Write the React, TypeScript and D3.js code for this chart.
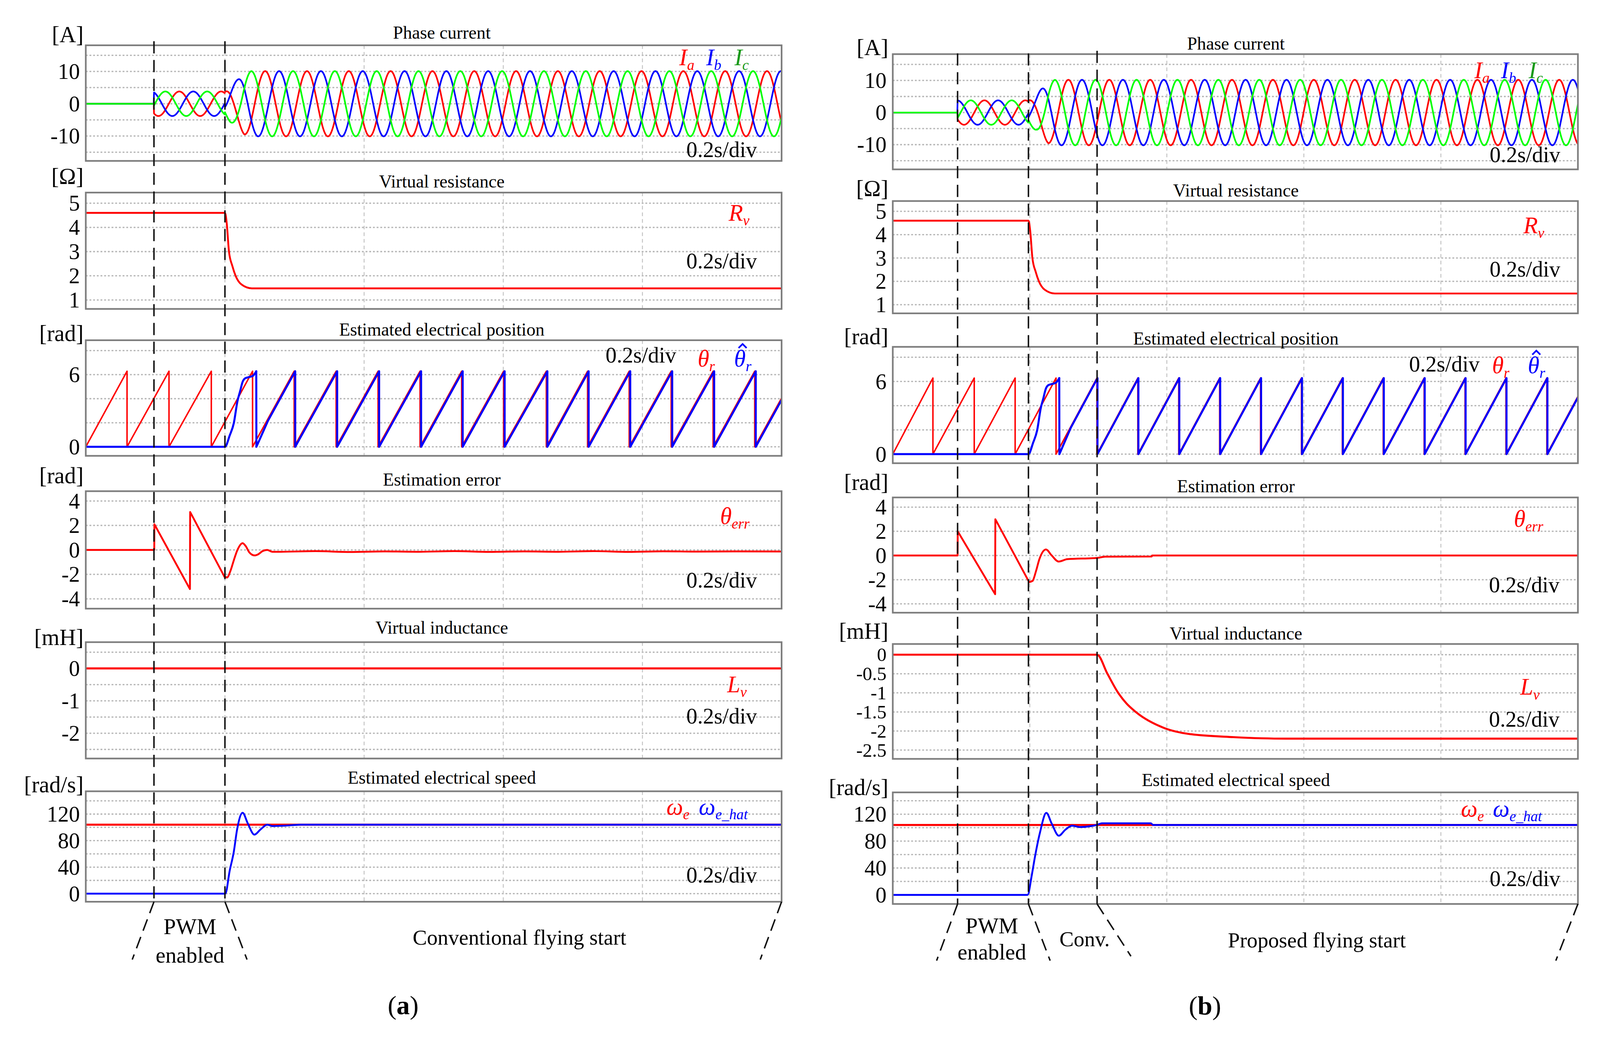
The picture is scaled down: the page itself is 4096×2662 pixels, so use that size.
import React from "react";
import * as d3 from "d3";

const FONT = "'Liberation Serif', 'Times New Roman', Times, serif";
const RED = "#ff0000";
const BLUE = "#0000ff";
const GREEN = "#00ff00";
const GREEN_TXT = "#1a9a1a";
const TWO_PI = 2 * Math.PI;
const S = 4096 / 4346;

// ================= data =================
const timeGrid = [0.2, 0.4, 0.6, 0.8]; // 0.2 s/div, 5 divisions
const eventsA = [0.098, 0.2];
const eventsB = [0.0946, 0.198, 0.2982];

// axis ranges / grid / ticks
const currentDomA = [-17.7, 18.1];
const currentDomB = [-17.7, 18.2];
const currentGrid = [-15, -10, -5, 0, 5, 10, 15];
const currentTicks = [-10, 0, 10];
const rvDom = [0.63, 5.44];
const rvGrid = [1, 2, 3, 4, 5];
const rvTicks = [1, 2, 3, 4, 5];
const posDom = [-0.75, 8.86];
const posGrid = [0, 2, 4, 6, 8];
const posTicks = [0, 6];
const errDomA = [-4.8, 4.8];
const errDomB = [-4.73, 4.8];
const errGrid = [-4, -2, 0, 2, 4];
const errTicks = [-4, -2, 0, 2, 4];
const lvDomA = [-2.78, 0.81];
const lvGridA = [-2.5, -2, -1.5, -1, -0.5, 0, 0.5];
const lvTicksA = [-2, -1, 0];
const lvDomB = [-2.73, 0.28];
const lvGridB = [-2.5, -2, -1.5, -1, -0.5, 0];
const lvTicksB = [-2.5, -2, -1.5, -1, -0.5, 0];
const spdDomA = [-12.2, 154.4];
const spdDomB = [-13.5, 152.5];
const spdGrid = [0, 20, 40, 60, 80, 100, 120, 140];
const spdTicks = [0, 40, 80, 120];

// phase currents (three-phase sinusoids)
const curA = { on: 0.098, run: 0.2, period: 0.0601, peakPwm: 0.1344, peakRun: 0.4381 };
const curEnvTA = [0.098, 0.2, 0.208, 0.218, 0.228, 0.238, 1.0];
const curEnvVA = [3.8, 3.8, 5.7, 7.4, 9.5, 10.1, 10.1];
const curB = { on: 0.0946, run: 0.198, period: 0.0597, peakPwm: 0.1338, peakRun: 0.2563 };
const curEnvTB = [0.0946, 0.198, 0.2095, 0.2182, 0.2273, 0.237, 1.0];
const curEnvVB = [3.8, 3.8, 5.6, 7.6, 9.6, 10.2, 10.2];
const phaseShift = [0, 1, -1]; // Ia, Ib, Ic (units of 2π/3)

// virtual resistance
const rvTA = [0, 0.2001, 0.2026, 0.2058, 0.2107, 0.2153, 0.2238, 0.2386, 1.0];
const rvVA = [4.6, 4.6, 4.16, 3.0, 2.4, 2.0, 1.64, 1.48, 1.48];
const rvTB = [0, 0.1981, 0.2006, 0.2038, 0.2087, 0.2133, 0.2218, 0.2366, 1.0];
const rvVB = [4.6, 4.6, 4.16, 3.0, 2.4, 2.0, 1.64, 1.48, 1.48];

// electrical position: reset instants of θr
const thetaResetsA = [0.0593, 0.1196, 0.1804, 0.2397, 0.2995, 0.3598, 0.4201, 0.4804, 0.5402, 0.6005, 0.6619, 0.7212, 0.781, 0.8413, 0.9016, 0.9614];
const thetaResetsB = [0.0586, 0.1189, 0.1786, 0.2383, 0.298, 0.3577, 0.4174, 0.4771, 0.5368, 0.5965, 0.6562, 0.7159, 0.7756, 0.8353, 0.895, 0.9547];
// estimated position transient
const thHatTA = [0, 0.2, 0.2069, 0.2127, 0.218, 0.2217, 0.2254, 0.2291, 0.2349, 0.2402, 0.245];
const thHatVA = [0, 0, 0.95, 1.96, 3.8, 4.6, 5.4, 5.7, 5.8, 5.9, 6.28];
const thHatTB = [0, 0.198, 0.2049, 0.2107, 0.216, 0.2197, 0.2234, 0.2271, 0.2329, 0.2382, 0.243];
const thHatVB = [0, 0, 0.95, 1.96, 3.8, 4.6, 5.4, 5.7, 5.8, 5.9, 6.28];
const thHatFollowA = { drop: 0.2452, merge: 0.262, lag: 0.0015 };
const thHatFollowB = { drop: 0.2432, merge: 0.26, lag: 0.0008 };

// estimation error: straight ramps, then damped settling
const errRampTA = [0, 0.0984, 0.0986, 0.1497, 0.15, 0.1994, 0.203];
const errRampVA = [0, 0, 2.1, -3.2, 3.1, -2.2, -2.25];
const errSetTA = [0.1994, 0.203, 0.208, 0.213, 0.218, 0.2254, 0.23, 0.235, 0.2423, 0.248, 0.254, 0.2608, 0.268, 0.28, 0.33, 0.38, 0.43, 0.48, 0.53, 0.58, 0.63, 0.68, 0.73, 0.78, 0.83, 0.88, 0.93, 1.0];
const errSetVA = [-2.2, -2.25, -1.7, -0.8, 0.0, 0.55, 0.3, -0.2, -0.45, -0.35, -0.1, 0.0, -0.15, -0.15, -0.1, -0.17, -0.12, -0.15, -0.1, -0.16, -0.12, -0.15, -0.1, -0.16, -0.11, -0.14, -0.12, -0.13];
const errRampTB = [0, 0.0946, 0.0948, 0.1494, 0.1497, 0.199, 0.204];
const errRampVB = [0, 0, 2.0, -3.2, 3.0, -2.2, -2.1];
const errSetTB = [0.199, 0.204, 0.209, 0.214, 0.2236, 0.232, 0.242, 0.255, 0.298, 0.31, 0.378, 0.3785, 1.0];
const errSetVB = [-2.2, -2.1, -1.3, -0.3, 0.5, 0.0, -0.5, -0.3, -0.2, -0.1, -0.08, 0, 0];

// virtual inductance
const lvTA = [0, 1.0];
const lvVA = [0, 0];
const lvTB = [0, 0.2982, 0.3133, 0.3283, 0.3412, 0.3546, 0.396, 0.4336, 0.497, 0.5744, 1.0];
const lvVB = [0, 0, -0.5, -0.98, -1.28, -1.5, -1.92, -2.08, -2.16, -2.2, -2.2];

// electrical speed
const wRef = 104;
const wHatTA = [0, 0.2005, 0.2069, 0.2127, 0.2175, 0.2254, 0.2328, 0.2423, 0.2513, 0.2608, 0.2683, 0.2852, 0.309, 1.0];
const wHatVA = [0, 0, 35, 63, 97, 122, 106, 89, 97, 104, 102, 102.5, 104, 104];
const wHatTB = [0, 0.1967, 0.203, 0.2074, 0.2149, 0.2241, 0.232, 0.2423, 0.252, 0.2617, 0.2724, 0.2977, 0.305, 0.3767, 0.38, 1.0];
const wHatVB = [0, 0, 30, 56, 93, 122, 106, 88, 97, 103, 101, 104, 106.5, 106.5, 104, 104];

// ================= layout =================
const XA = [233, 2123];
const XB = [2425, 4286];
const boxesA = [[123, 437], [523, 839], [924, 1238], [1334, 1653], [1744, 2060], [2149, 2449]];
const boxesB = [[147, 460], [546, 851], [942, 1258], [1351, 1664], [1749, 2061], [2152, 2455]];
const titles = ["Phase current", "Virtual resistance", "Estimated electrical position", "Estimation error", "Virtual inductance", "Estimated electrical speed"];
const units = ["[A]", "[Ω]", "[rad]", "[rad]", "[mH]", "[rad/s]"];
const titleBaseA = [105, 509, 911, 1319, 1721, 2128];
const titleBaseB = [135, 534, 936, 1337, 1737, 2135];
const unitBaseA = [115, 500, 926, 1312, 1752, 2152];
const unitBaseB = [150, 533, 935, 1331, 1735, 2159];

const zip = (t, v) => t.map((x, i) => [x, v[i]]);

function currentSeries(c, envT, envV, k) {
  const env = d3.scaleLinear().domain(envT).range(envV).clamp(true);
  const n = 2600;
  const pts = [];
  for (let i = 0; i <= n; i++) {
    const t = i / n;
    if (t < c.on) {
      pts.push([t, 0]);
      continue;
    }
    const pk = t < c.run ? c.peakPwm : c.peakRun;
    pts.push([t, env(t) * Math.cos((TWO_PI * (t - pk)) / c.period - (k * TWO_PI) / 3)]);
  }
  return pts;
}

function sawValue(resets, lag, t) {
  const rs = resets.map((r) => r + lag);
  for (let i = 1; i < rs.length; i++) {
    if (t >= rs[i - 1] && t < rs[i]) return (TWO_PI * (t - rs[i - 1])) / (rs[i] - rs[i - 1]);
  }
  return 0;
}

function sawFrom(resets, lag, t0, v0, tEnd) {
  const rs = resets.map((r) => r + lag).filter((r) => r > t0 && r < tEnd);
  const pts = [[t0, v0]];
  rs.forEach((r) => {
    pts.push([r, TWO_PI]);
    pts.push([r, 0]);
  });
  const last = rs[rs.length - 1];
  const prev = rs[rs.length - 2];
  pts.push([tEnd, (TWO_PI * (tEnd - last)) / (last - prev)]);
  return pts;
}

function thetaHat(resets, tt, vv, f) {
  const mv = sawValue(resets, f.lag, f.merge);
  return [
    { pts: zip(tt, vv), curve: d3.curveMonotoneX },
    { pts: [[tt[tt.length - 1], vv[vv.length - 1]], [f.drop, 0], ...sawFrom(resets, f.lag, f.merge, mv, 1.0)], curve: d3.curveLinear },
  ];
}

function Panel(p) {
  const xs = d3.scaleLinear().domain([0, 1]).range(p.xr);
  const ys = d3.scaleLinear().domain(p.dom).range([p.box[1], p.box[0]]);
  const [x0, x1] = p.xr;
  const [y0, y1] = p.box;
  return (
    <g>
      <defs>
        <clipPath id={p.id}>
          <rect x={x0} y={y0} width={x1 - x0} height={y1 - y0} />
        </clipPath>
      </defs>
      <rect x={x0} y={y0} width={x1 - x0} height={y1 - y0} fill="#ffffff" />
      {p.grid.map((v, i) => (
        <line key={"g" + i} x1={x0} x2={x1} y1={ys(v)} y2={ys(v)} stroke="#b6b6b6" strokeWidth={3.5} strokeDasharray="5 5" />
      ))}
      {timeGrid.map((t, i) => (
        <line key={"v" + i} x1={xs(t)} x2={xs(t)} y1={y0} y2={y1} stroke="#c2c2c2" strokeWidth={2.5} strokeDasharray="10 8" />
      ))}
      <g clipPath={`url(#${p.id})`}>
        {p.series.map((s, i) => (
          <path
            key={"s" + i}
            d={d3.line().x((d) => xs(d[0])).y((d) => ys(d[1])).curve(s.curve || d3.curveLinear)(s.pts)}
            fill="none"
            stroke={s.color}
            strokeWidth={s.width}
            strokeLinejoin="round"
            strokeLinecap="round"
          />
        ))}
      </g>
      <rect x={x0} y={y0} width={x1 - x0} height={y1 - y0} fill="none" stroke="#7d7d7d" strokeWidth={4.5} />
      {p.ticks.map((v, i) => (
        <text key={"t" + i} x={p.tickEnd} y={ys(v) + (p.tickSize || 60) * 0.34} textAnchor="end" fontFamily={FONT} fontSize={p.tickSize || 60} fill="#000">
          {String(v)}
        </text>
      ))}
      <text x={p.titleX} y={p.titleBase} textAnchor="middle" fontFamily={FONT} fontSize={49} fill="#000">
        {p.title}
      </text>
      <text x={p.unitEnd} y={p.unitBase} textAnchor="end" fontFamily={FONT} fontSize={62} fill="#000">
        {p.unit}
      </text>
    </g>
  );
}

function Sym({ x, y, base, sub, color, hat = false, size = 64 }) {
  const hx = x + size * 0.36;
  return (
    <g>
      <text x={x} y={y} fill={color} fontFamily={FONT} fontStyle="italic" fontSize={size}>
        {base}
        <tspan fontSize={size * 0.62} dy={size * 0.2}>
          {sub}
        </tspan>
      </text>
      {hat && (
        <path
          d={`M${hx - size * 0.17},${y - size * 0.78} L${hx},${y - size * 0.95} L${hx + size * 0.17},${y - size * 0.78}`}
          fill="none"
          stroke={color}
          strokeWidth={4.5}
          strokeLinejoin="miter"
        />
      )}
    </g>
  );
}

function Div({ x, y, anchor = "end" }) {
  return (
    <text x={x} y={y} textAnchor={anchor} fontFamily={FONT} fontSize={60} fill="#000">
      0.2s/div
    </text>
  );
}

function Events({ xr, events, tops, bottom, ends, dxs, rightDx, rightEnd }) {
  const xs = d3.scaleLinear().domain([0, 1]).range(xr);
  const st = { stroke: "#111", strokeWidth: 4, strokeDasharray: "33 18", fill: "none" };
  return (
    <g>
      {events.map((t, i) => (
        <g key={i}>
          <line x1={xs(t)} x2={xs(t)} y1={tops[i]} y2={bottom} {...st} />
          <line x1={xs(t)} x2={xs(t) + dxs[i]} y1={bottom} y2={ends[i]} {...st} />
        </g>
      ))}
      <line x1={xr[1]} x2={xr[1] + rightDx} y1={bottom} y2={rightEnd} {...st} />
    </g>
  );
}

function Column(props) {
  const { key0, xr, boxes, titleX, titleBase, unitBase, unitEnd, tickEnd, cur, env, rvT, rvV, resets, thT, thV, thF, errR, errS, lvT, lvV, wT, wV, curDom, errDom, lvDom, lvGrid, lvTicks, lvTickSize, spdDom } = props;
  const common = (i) => ({
    id: `${key0}-clip-${i}`,
    xr,
    box: boxes[i],
    title: titles[i],
    titleX,
    titleBase: titleBase[i],
    unit: units[i],
    unitEnd,
    unitBase: unitBase[i],
    tickEnd,
  });
  const phaseColors = [RED, BLUE, GREEN];
  const curSeries = [0, 1, 2].map((k) => ({ pts: currentSeries(cur, env[0], env[1], phaseShift[k]), color: phaseColors[k], width: 4.5 }));
  const th = thetaHat(resets, thT, thV, thF);
  return (
    <g>
      <Panel {...common(0)} dom={curDom} grid={currentGrid} ticks={currentTicks} series={curSeries} />
      <Panel {...common(1)} dom={rvDom} grid={rvGrid} ticks={rvTicks} series={[{ pts: zip(rvT, rvV), color: RED, width: 5, curve: d3.curveMonotoneX }]} />
      <Panel
        {...common(2)}
        dom={posDom}
        grid={posGrid}
        ticks={posTicks}
        series={[
          { pts: sawFrom(resets, 0, 0, 0, 1.0), color: RED, width: 4 },
          { ...th[0], color: BLUE, width: 5.5 },
          { ...th[1], color: BLUE, width: 5.5 },
        ]}
      />
      <Panel
        {...common(3)}
        dom={errDom}
        grid={errGrid}
        ticks={errTicks}
        series={[
          { pts: zip(errR[0], errR[1]), color: RED, width: 5, curve: d3.curveLinear },
          { pts: zip(errS[0], errS[1]), color: RED, width: 5, curve: d3.curveMonotoneX },
        ]}
      />
      <Panel {...common(4)} dom={lvDom} grid={lvGrid} ticks={lvTicks} tickSize={lvTickSize} series={[{ pts: zip(lvT, lvV), color: RED, width: 5.5, curve: d3.curveMonotoneX }]} />
      <Panel
        {...common(5)}
        dom={spdDom}
        grid={spdGrid}
        ticks={spdTicks}
        series={[
          { pts: [[0, wRef], [1, wRef]], color: RED, width: 5.5 },
          { pts: zip(wT, wV), color: BLUE, width: 5, curve: d3.curveMonotoneX },
        ]}
      />
    </g>
  );
}

export default function App() {
  return (
    <svg width={4096} height={2662} viewBox="0 0 4096 2662" style={{ position: "absolute", left: 0, top: 0, display: "block", background: "#fff" }}>
      <rect x={0} y={0} width={4096} height={2662} fill="#ffffff" />
      <g transform={`scale(${S})`}>
        {/* ---------- (a) ---------- */}
        <Column
          key0="a"
          xr={XA}
          boxes={boxesA}
          titleX={1200}
          titleBase={titleBaseA}
          unitBase={unitBaseA}
          unitEnd={227}
          tickEnd={217}
          cur={curA}
          env={[curEnvTA, curEnvVA]}
          rvT={rvTA}
          rvV={rvVA}
          resets={thetaResetsA}
          thT={thHatTA}
          thV={thHatVA}
          thF={thHatFollowA}
          errR={[errRampTA, errRampVA]}
          errS={[errSetTA, errSetVA]}
          lvT={lvTA}
          lvV={lvVA}
          wT={wHatTA}
          wV={wHatVA}
          curDom={currentDomA}
          errDom={errDomA}
          lvDom={lvDomA}
          lvGrid={lvGridA}
          lvTicks={lvTicksA}
          lvTickSize={60}
          spdDom={spdDomA}
        />
        {/* ---------- (b) ---------- */}
        <Column
          key0="b"
          xr={XB}
          boxes={boxesB}
          titleX={3357}
          titleBase={titleBaseB}
          unitBase={unitBaseB}
          unitEnd={2413}
          tickEnd={2408}
          cur={curB}
          env={[curEnvTB, curEnvVB]}
          rvT={rvTB}
          rvV={rvVB}
          resets={thetaResetsB}
          thT={thHatTB}
          thV={thHatVB}
          thF={thHatFollowB}
          errR={[errRampTB, errRampVB]}
          errS={[errSetTB, errSetVB]}
          lvT={lvTB}
          lvV={lvVB}
          wT={wHatTB}
          wV={wHatVB}
          curDom={currentDomB}
          errDom={errDomB}
          lvDom={lvDomB}
          lvGrid={lvGridB}
          lvTicks={lvTicksB}
          lvTickSize={52}
          spdDom={spdDomB}
        />

        {/* legends (a) */}
        <Sym x={1845} y={177} base="I" sub="a" color={RED} />
        <Sym x={1918} y={177} base="I" sub="b" color={BLUE} />
        <Sym x={1995} y={177} base="I" sub="c" color={GREEN_TXT} />
        <Div x={2056} y={427} />
        <Sym x={1979} y={599} base="R" sub="v" color={RED} />
        <Div x={2056} y={729} />
        <Div x={1645} y={985} anchor="start" />
        <Sym x={1895} y={995} base="θ" sub="r" color={RED} />
        <Sym x={1994} y={995} base="θ" sub="r" color={BLUE} hat />
        <Sym x={1956} y={1423} base="θ" sub="err" color={RED} />
        <Div x={2056} y={1596} />
        <Sym x={1975} y={1880} base="L" sub="v" color={RED} />
        <Div x={2056} y={1965} />
        <Sym x={1810} y={2212} base="ω" sub="e" color={RED} />
        <Sym x={1898} y={2212} base="ω" sub="e_hat" color={BLUE} />
        <Div x={2056} y={2397} />

        {/* legends (b) */}
        <Sym x={4005} y={212} base="I" sub="a" color={RED} />
        <Sym x={4077} y={212} base="I" sub="b" color={BLUE} />
        <Sym x={4152} y={212} base="I" sub="c" color={GREEN_TXT} />
        <Div x={4238} y={440} />
        <Sym x={4138} y={633} base="R" sub="v" color={RED} />
        <Div x={4238} y={751} />
        <Div x={4019} y={1009} />
        <Sym x={4053} y={1013} base="θ" sub="r" color={RED} />
        <Sym x={4150} y={1013} base="θ" sub="r" color={BLUE} hat />
        <Sym x={4112} y={1430} base="θ" sub="err" color={RED} />
        <Div x={4236} y={1608} />
        <Sym x={4129} y={1887} base="L" sub="v" color={RED} />
        <Div x={4236} y={1974} />
        <Sym x={3968} y={2218} base="ω" sub="e" color={RED} />
        <Sym x={4055} y={2218} base="ω" sub="e_hat" color={BLUE} />
        <Div x={4238} y={2406} />

        {/* event markers */}
        <Events xr={XA} events={eventsA} tops={[112, 112]} bottom={2449} ends={[2606, 2606]} dxs={[-59, 60]} rightDx={-58} rightEnd={2606} />
        <Events xr={XB} events={eventsB} tops={[145, 145, 138]} bottom={2455} ends={[2609, 2609, 2597]} dxs={[-57, 59, 92]} rightDx={-60} rightEnd={2609} />

        {/* bottom annotations */}
        <g fontFamily={FONT} fill="#000">
          <text x={516} y={2537} textAnchor="middle" fontSize={60}>PWM</text>
          <text x={516} y={2614} textAnchor="middle" fontSize={60}>enabled</text>
          <text x={1411} y={2566} textAnchor="middle" fontSize={58}>Conventional flying start</text>
          <text x={1095} y={2754} textAnchor="middle" fontSize={72}>
            (<tspan fontWeight="bold">a</tspan>)
          </text>
          <text x={2694} y={2535} textAnchor="middle" fontSize={60}>PWM</text>
          <text x={2694} y={2606} textAnchor="middle" fontSize={60}>enabled</text>
          <text x={2946} y={2570} textAnchor="middle" fontSize={58}>Conv.</text>
          <text x={3577} y={2573} textAnchor="middle" fontSize={58}>Proposed flying start</text>
          <text x={3273} y={2756} textAnchor="middle" fontSize={72}>
            (<tspan fontWeight="bold">b</tspan>)
          </text>
        </g>
      </g>
    </svg>
  );
}
